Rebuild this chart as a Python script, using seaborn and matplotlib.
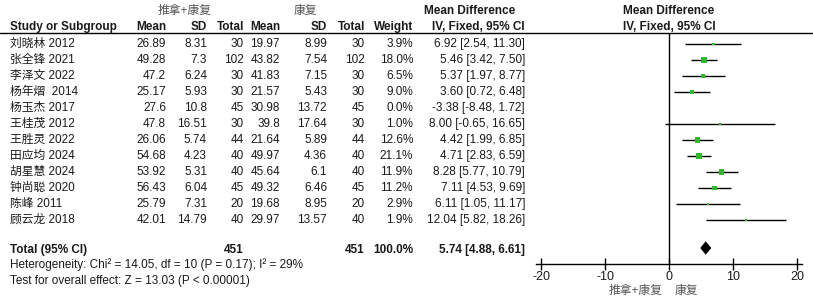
import numpy as np
import pandas as pd
import seaborn as sns
import matplotlib
matplotlib.use('Agg')
import matplotlib.pyplot as plt

# study data
studies = ['刘晓林 2012', '张全锋 2021', '李泽文 2022', '杨年熠  2014', '杨玉杰 2017', '王桂茂 2012',
           '王胜灵 2022', '田应均 2024', '胡星慧 2024', '钟尚聪 2020', '陈峰 2011', '顾云龙 2018']
exp_mean = [26.89, 49.28, 47.2, 25.17, 27.6, 47.8, 26.06, 54.68, 53.92, 56.43, 25.79, 42.01]
exp_sd = [8.31, 7.3, 6.24, 5.93, 10.8, 16.51, 5.74, 4.23, 5.31, 6.04, 7.31, 14.79]
exp_n = [30, 102, 30, 30, 45, 30, 44, 40, 40, 45, 20, 40]
ctl_mean = [19.97, 43.82, 41.83, 21.57, 30.98, 39.8, 21.64, 49.97, 45.64, 49.32, 19.68, 29.97]
ctl_sd = [8.99, 7.54, 7.15, 5.43, 13.72, 17.64, 5.89, 4.36, 6.1, 6.46, 8.95, 13.57]
ctl_n = [30, 102, 30, 30, 45, 30, 44, 40, 40, 45, 20, 40]
weight = [3.9, 18.0, 6.5, 9.0, 0.0, 1.0, 12.6, 21.1, 11.9, 11.2, 2.9, 1.9]
md = [6.92, 5.46, 5.37, 3.60, -3.38, 8.00, 4.42, 4.71, 8.28, 7.11, 6.11, 12.04]
ci_lo = [2.54, 3.42, 1.97, 0.72, -8.48, -0.65, 1.99, 2.83, 5.77, 4.53, 1.05, 5.82]
ci_hi = [11.30, 7.50, 8.77, 6.48, 1.72, 16.65, 6.85, 6.59, 10.79, 9.69, 11.17, 18.26]

total_exp_n = 451
total_ctl_n = 451
total_md = 5.74
total_lo = 4.88
total_hi = 6.61
het_text = 'Heterogeneity: Chi² = 14.05, df = 10 (P = 0.17); I² = 29%'
test_text = 'Test for overall effect: Z = 13.03 (P < 0.00001)'
xticks = [-20, -10, 0, 10, 20]
grp_exp = '推拿+康复'
grp_ctl = '康复'

sns.set_style('white')
plt.rcParams['font.family'] = ['Liberation Sans', 'Noto Sans CJK SC']
plt.rcParams['font.size'] = 8.5

df = pd.DataFrame({'study': studies, 'md': md, 'lo': ci_lo, 'hi': ci_hi, 'w': weight})
df['row'] = np.arange(len(df))

W, H = 813, 304
fig = plt.figure(figsize=(W / 100, H / 100), dpi=100)
fig.patch.set_facecolor('white')

# table part, laid out in pixel units
tab = fig.add_axes([0, 0, 1, 1], zorder=0)
tab.set_xlim(0, W)
tab.set_ylim(H, 0)
tab.axis('off')

txt = '#1a1a1a'
grey = '#555555'
tab.text(185, 11, grp_exp, ha='center', va='center', color=grey, fontsize=8.5)
tab.text(305, 11, grp_ctl, ha='center', va='center', color=grey, fontsize=8.5)
tab.text(470, 11, 'Mean Difference', ha='center', va='center', fontweight='bold', color=txt)
tab.text(669, 11, 'Mean Difference', ha='center', va='center', fontweight='bold', color=txt)

hdr_y = 27
tab.text(10, hdr_y, 'Study or Subgroup', ha='left', va='center', fontweight='bold', color=txt)
cols_x = [166, 207, 244, 280, 327, 365, 413]
for x, h in zip(cols_x, ['Mean', 'SD', 'Total', 'Mean', 'SD', 'Total', 'Weight']):
    tab.text(x, hdr_y, h, ha='right', va='center', fontweight='bold', color=txt)
tab.text(525, hdr_y, 'IV, Fixed, 95% CI', ha='right', va='center', fontweight='bold', color=txt)
tab.text(669, hdr_y, 'IV, Fixed, 95% CI', ha='center', va='center', fontweight='bold', color=txt)
tab.axhline(33, color='black', lw=1)

row0, step = 44, 16
for i in range(len(studies)):
    y = row0 + step * i
    tab.text(10, y, studies[i], ha='left', va='center', color=txt)
    vals = ['%g' % exp_mean[i], '%g' % exp_sd[i], str(exp_n[i]),
            '%g' % ctl_mean[i], '%g' % ctl_sd[i], str(ctl_n[i]), '%.1f%%' % weight[i]]
    for x, v in zip(cols_x, vals):
        tab.text(x, y, v, ha='right', va='center', color=txt)
    tab.text(525, y, '%.2f [%.2f, %.2f]' % (md[i], ci_lo[i], ci_hi[i]), ha='right', va='center', color=txt)

ty = 250
tab.text(10, ty, 'Total (95% CI)', ha='left', va='center', fontweight='bold', color=txt)
tab.text(244, ty, str(total_exp_n), ha='right', va='center', fontweight='bold', color=txt)
tab.text(365, ty, str(total_ctl_n), ha='right', va='center', fontweight='bold', color=txt)
tab.text(413, ty, '100.0%', ha='right', va='center', fontweight='bold', color=txt)
tab.text(525, ty, '%.2f [%.2f, %.2f]' % (total_md, total_lo, total_hi), ha='right', va='center',
         fontweight='bold', color=txt)
tab.text(10, 265, het_text, ha='left', va='center', color=txt)
tab.text(10, 281, test_text, ha='left', va='center', color=txt)

tab.text(636, 291, grp_exp, ha='center', va='center', color=grey, fontsize=8.5)
tab.text(686, 291, grp_ctl, ha='center', va='center', color=grey, fontsize=8.5)

# forest plot axes
left, right, top, bottom = 536, 802, 33, 264
ax = fig.add_axes([left / W, 1 - bottom / H, (right - left) / W, (bottom - top) / H], zorder=1)
ax.patch.set_alpha(0)
ax.set_xlim(-20.8, 20.8)
ax.set_ylim((bottom - row0) / step, (top - row0) / step)

shown = df[df['w'] > 0]
ax.hlines(shown['row'], shown['lo'], shown['hi'], color='black', lw=1)
sns.scatterplot(data=shown, x='md', y='row', size='w', sizes=(1.1 * shown['w'].min(), 1.1 * shown['w'].max()),
                marker='s', color='#2db82d', linewidth=0, legend=False, ax=ax, zorder=3)

yt = (ty - 2 - row0) / step
dh = 0.42
ax.fill([total_lo, total_md, total_hi, total_md], [yt, yt - dh, yt, yt + dh], color='black', lw=0)

ax.axvline(0, color='black', lw=1)
for s in ['top', 'right', 'left']:
    ax.spines[s].set_visible(False)
ax.spines['bottom'].set_color('black')
ax.spines['bottom'].set_linewidth(1)
ax.set_yticks([])
ax.set_xticks(xticks)
ax.set_xticklabels([str(t) for t in xticks], fontsize=9, color=txt)
ax.tick_params(axis='x', direction='inout', length=8, width=1, color='black', pad=1, bottom=True)
ax.set_xlabel('')
ax.set_ylabel('')

plt.savefig('out.png', dpi=100)
plt.close(fig)
